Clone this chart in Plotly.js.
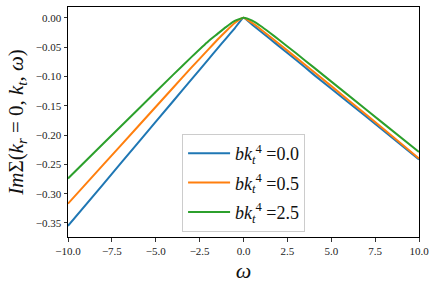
<!DOCTYPE html>
<html>
<head>
<meta charset="utf-8">
<script src="https://cdn.plot.ly/plotly-3.0.1.min.js"></script>
<style>html,body{margin:0;padding:0;background:#fff;}#chart{width:436px;height:287px;}</style>
</head>
<body>
<div id="chart"></div>
<script>
const omega = [-10, -8, -6, -4, -3, -2, -1.5, -1, -0.5, 0, 0.5, 1, 1.5, 2, 3, 4, 6, 8, 10];
const sigmaB00 = [-0.355, -0.284, -0.213, -0.142, -0.1065, -0.071, -0.053, -0.0355, -0.018, 0, -0.012, -0.024, -0.036, -0.048, -0.072, -0.097, -0.145, -0.193, -0.2416];
const sigmaB05 = [-0.317, -0.251, -0.185, -0.119, -0.086, -0.054, -0.038, -0.023, -0.009, 0, -0.009, -0.020, -0.032, -0.044, -0.068, -0.092, -0.141, -0.190, -0.240];
const sigmaB25 = [-0.274, -0.215, -0.156, -0.097, -0.068, -0.040, -0.028, -0.016, -0.0055, 0, -0.005, -0.0145, -0.0256, -0.037, -0.0607, -0.0847, -0.1328, -0.181, -0.2290];
const seriesNames = ['<i>bk<sub>t</sub></i><sup>4</sup> =0.0', '<i>bk<sub>t</sub></i><sup>4</sup> =0.5', '<i>bk<sub>t</sub></i><sup>4</sup> =2.5'];
const colors = ['#1f77b4', '#ff7f0e', '#2ca02c'];
const xTicks = [-10, -7.5, -5, -2.5, 0, 2.5, 5, 7.5, 10];
const yTicks = [0, -0.05, -0.10, -0.15, -0.20, -0.25, -0.30, -0.35];

const ys = [sigmaB00, sigmaB05, sigmaB25];
const traces = ys.map((y, i) => ({
  x: omega, y: y, type: 'scatter', mode: 'lines', name: seriesNames[i],
  legendgroup: 'g' + i,
  line: {color: colors[i], width: 2, shape: 'spline', smoothing: 0.4}
}));

const serif = 'Liberation Serif';
const layout = {
  width: 436, height: 287,
  margin: {l: 68, r: 17, t: 7, b: 50, pad: 0},
  paper_bgcolor: '#fff', plot_bgcolor: '#fff',
  showlegend: true,
  font: {family: serif, color: '#222'},
  xaxis: {
    range: [-10, 10], tickvals: xTicks, tickformat: '.1f',
    ticks: 'outside', ticklen: 3.5, tickwidth: 0.8, tickcolor: '#000',
    showline: true, linecolor: '#000', linewidth: 1, mirror: true,
    showgrid: false, zeroline: false,
    tickfont: {family: serif, size: 11, color: '#222'},
    title: {text: '<i>ω</i>', font: {family: serif, size: 22, color: '#111'}, standoff: 6}
  },
  yaxis: {
    range: [-0.3739, 0.0183], tickvals: yTicks, tickformat: '.2f',
    ticks: 'outside', ticklen: 3.5, tickwidth: 0.8, tickcolor: '#000',
    showline: true, linecolor: '#000', linewidth: 1, mirror: true,
    showgrid: false, zeroline: false,
    tickfont: {family: serif, size: 11, color: '#222'},
    title: {text: '<i>Im</i>Σ(<i>k<sub>r</sub></i> = 0, <i>k<sub>t</sub></i>, <i>ω</i>)', font: {family: serif, size: 21, color: '#111'}, standoff: 6}
  },
  legend: {
    x: 0.325, y: 0.448, xanchor: 'left', yanchor: 'top',
    bgcolor: 'rgba(255,255,255,0.85)', bordercolor: '#ccc', borderwidth: 1,
    font: {family: serif, size: 18, color: '#111'},
    itemwidth: 42, tracegroupgap: 3
  }
};
Plotly.newPlot('chart', traces, layout, {staticPlot: true, displayModeBar: false});
</script>
</body>
</html>
